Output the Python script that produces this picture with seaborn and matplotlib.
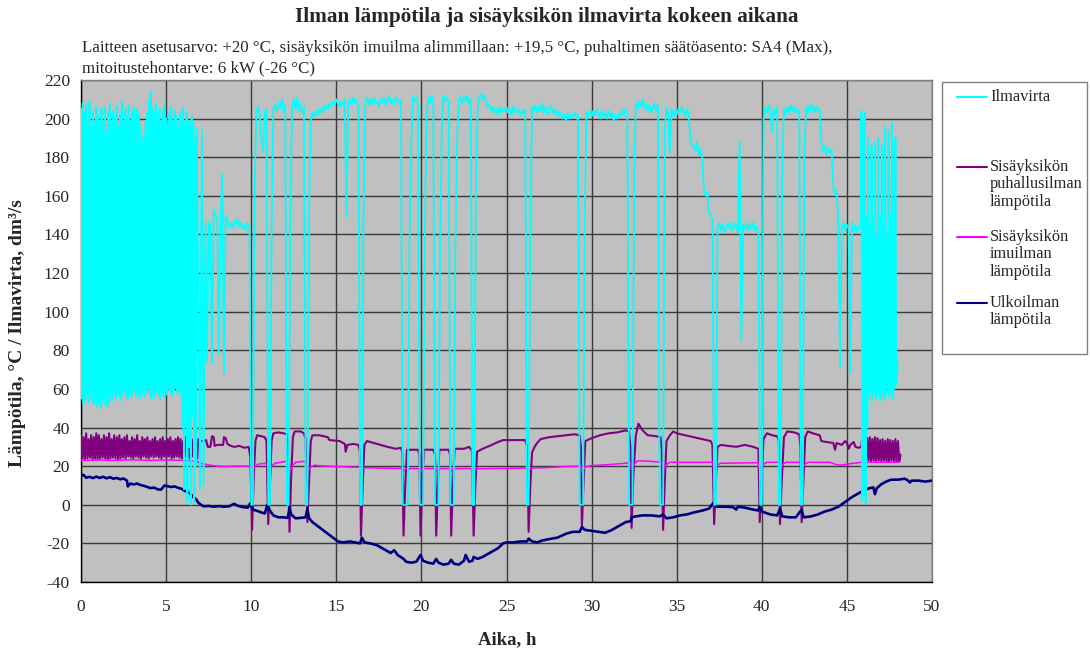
import numpy as np
import pandas as pd
import matplotlib
matplotlib.use("Agg")
import matplotlib.pyplot as plt
import seaborn as sns
from matplotlib.patches import Rectangle
from matplotlib.lines import Line2D
from matplotlib.ticker import MultipleLocator

# ---------------- data ----------------
# Ilmavirta (airflow), dense compressor cycling 0..6.8 h, sampled every 0.05 h (peak, trough alternating)
cyan_peaks = [205,208,203,207,200,209,196,204,198,206,
              201,195,205,199,206,193,203,208,197,204,
              200,206,196,202,209,198,205,201,207,199,
              204,206,200,205,202,196,190,192,198,203,
              210,214,206,203,208,201,205,199,204,207,
              200,196,203,206,199,204,201,195,203,200,
              206,198,203,199,196,201,198,190,195]
cyan_troughs = [55,52,54,57,53,56,54,52,55,51,
                53,50,54,52,55,51,53,56,54,57,
                55,58,56,54,57,59,56,55,58,56,
                57,59,56,58,55,57,59,56,58,60,
                57,55,58,56,59,57,55,58,56,59,
                57,60,58,56,59,61,58,60,57,40,
                8,55,2,30,0,45,1,20]
# Ilmavirta 7.0 .. 45.8 h, every 0.1 h (one row per hour)
cyan_hourly = [
    [8, 194, 10, 146, 74, 147, 144, 73, 153, 150],          # 7
    [148, 78, 146, 171, 68, 150, 147, 144, 146, 143],       # 8
    [147, 145, 148, 144, 146, 143, 145, 142, 146, 144],     # 9
    [0, 0, 160, 204, 206, 202, 188, 183, 203, 205],         # 10
    [0, 0, 145, 205, 207, 204, 208, 205, 210, 204],         # 11
    [207, 0, 0, 150, 206, 210, 205, 211, 204, 208],         # 12
    [203, 206, 0, 0, 150, 200, 203, 201, 204, 202],         # 13
    [205, 203, 206, 204, 207, 205, 208, 206, 209, 207],     # 14
    [210, 208, 206, 209, 207, 210, 149, 208, 210, 207],     # 15
    [211, 208, 210, 207, 0, 0, 150, 208, 211, 207],         # 16
    [210, 207, 211, 208, 209, 206, 210, 208, 211, 207],     # 17
    [209, 212, 208, 210, 207, 211, 209, 208, 210, 0],       # 18
    [0, 0, 0, 135, 185, 212, 209, 211, 208, 0],             # 19
    [0, 0, 138, 200, 211, 208, 212, 209, 0, 0],             # 20
    [0, 135, 195, 212, 209, 211, 208, 0, 0, 0],             # 21
    [135, 190, 210, 212, 208, 211, 209, 212, 208, 210],     # 22
    [0, 0, 163, 205, 211, 213, 210, 212, 208, 206],         # 23
    [207, 204, 206, 203, 205, 202, 206, 203, 205, 204],     # 24
    [206, 203, 205, 202, 206, 204, 203, 205, 202, 204],     # 25
    [203, 205, 0, 0, 140, 206, 204, 207, 203, 206],         # 26
    [204, 208, 203, 206, 202, 205, 207, 203, 205, 202],     # 27
    [204, 201, 203, 200, 202, 199, 203, 200, 202, 201],     # 28
    [203, 200, 202, 0, 0, 0, 150, 203, 201, 204],           # 29
    [201, 204, 202, 205, 203, 200, 204, 201, 203, 200],     # 30
    [204, 201, 203, 199, 202, 200, 203, 201, 204, 202],     # 31
    [205, 203, 0, 0, 0, 170, 208, 205, 209, 206],           # 32
    [210, 205, 208, 204, 207, 203, 206, 208, 204, 207],     # 33
    [0, 0, 0, 195, 206, 203, 182, 205, 201, 204],           # 34
    [202, 205, 203, 206, 204, 201, 205, 203, 190, 186],     # 35
    [186, 183, 188, 181, 184, 180, 163, 160, 162, 151],     # 36
    [150, 148, 0, 0, 144, 146, 142, 145, 141, 144],         # 37
    [146, 143, 145, 142, 146, 144, 141, 188, 85, 145],      # 38
    [143, 146, 142, 145, 143, 146, 142, 144, 141, 0],       # 39
    [0, 200, 206, 203, 207, 204, 193, 205, 202, 206],       # 40
    [0, 0, 170, 205, 202, 206, 203, 207, 204, 206],         # 41
    [203, 205, 204, 0, 0, 180, 206, 203, 207, 204],         # 42
    [207, 203, 206, 204, 205, 188, 183, 186, 181, 185],     # 43
    [182, 184, 165, 161, 163, 146, 71, 143, 146, 142],      # 44
    [145, 143, 68, 146, 142, 145, 141, 144, 143],           # 45
]
# Ilmavirta 45.85 .. 48.0 h, every 0.05 h
cyan_end = [204, 2, 200, 5, 203, 1, 150, 40, 190, 55, 145, 58, 186, 54, 150, 57,
            188, 55, 140, 59, 190, 56, 150, 54, 186, 58, 145, 55, 196, 57, 140, 60,
            194, 56, 150, 58, 198, 55, 140, 60, 190, 62, 75, 70]

# Sisäyksikön puhallusilman lämpötila, cycling 0..6.9 h every 0.075 h
purple_peaks = [36, 35, 37, 34, 36, 35, 37, 36, 34, 36,
                35, 37, 34, 36, 35, 36, 34, 35, 36, 33,
                35, 34, 36, 33, 35, 34, 35, 33, 34, 35,
                33, 34, 35, 33, 34, 35, 33, 34, 35, 34,
                33, 35, 34, 33, 34, 35, 34]
purple_troughs = [24, 23.5, 24, 24.5, 23.5, 24, 23.5, 24, 24.5, 24,
                  23.5, 24, 24.5, 24, 23.5, 24, 24.5, 24, 25, 24.5,
                  24, 25, 24.5, 24, 25, 24.5, 24, 25, 24.5, 25,
                  24.5, 24, 25, 24.5, 25, 24, 24.5, 25, 24.5, 24,
                  25, 24.5, 24, 25, 24.5, 24]
purple_points = [
    (6.95,34),(7.0,33),(7.2,33),(7.35,33.5),(7.45,30),(7.6,30),(7.7,35.5),(7.8,35),(7.85,30.5),
    (8.0,31),(8.2,31),(8.35,31),(8.4,35),(8.5,34.5),(8.6,31.5),(8.8,30.5),(9.0,30),(9.3,30.5),
    (9.6,29.5),(9.85,30),(9.95,25),(10.05,-13),(10.15,15),(10.25,33),(10.35,36),(10.6,35.5),
    (10.8,35),(10.9,33),(11.0,-10),(11.1,10),(11.2,33),(11.3,37),(11.6,37.5),(11.9,37),
    (12.1,36.5),(12.17,30),(12.25,-14),(12.35,15),(12.45,35),(12.55,38),(12.9,38),(13.1,37),
    (13.2,34),(13.3,-9),(13.4,12),(13.5,33),(13.6,36),(14.0,36),(14.5,35),(14.6,33.5),
    (15.2,33),(15.5,31.5),(15.55,27.5),(15.65,31),(16.0,31.5),(16.3,31),(16.38,28),(16.45,-16),
    (16.55,10),(16.65,31),(16.8,33),(17.2,32),(17.6,31),(18.0,30),(18.5,29),(18.8,29.5),
    (18.88,27),(18.95,-16),(19.05,10),(19.15,28.5),(19.8,28.5),(19.88,26),(19.95,-16),
    (20.05,10),(20.15,28.5),(20.7,28.5),(20.8,26),(20.87,-16),(20.97,10),(21.05,28.5),
    (21.6,28.5),(21.68,26),(21.75,-16),(21.85,10),(21.95,29),(22.5,29),(22.8,30),(22.97,28),
    (23.07,-16),(23.17,10),(23.27,27.5),(23.6,29),(24.0,30.5),(24.5,32.5),(24.8,33.5),
    (25.5,33.5),(26.1,33.5),(26.22,30),(26.3,-14),(26.4,10),(26.5,27),(26.65,30),(26.8,32),
    (27.0,34),(27.5,35),(28.0,35.5),(28.5,36),(29.0,36.5),(29.3,36),(29.37,30),(29.43,-11),
    (29.53,12),(29.63,33),(30.0,34.5),(30.5,36),(31.0,37),(31.5,37.5),(32.0,38.5),(32.2,38),
    (32.28,30),(32.35,-12),(32.45,15),(32.6,36),(32.75,42),(33.0,38.5),(33.3,36),(33.8,35.5),
    (34.05,35),(34.12,28),(34.2,-13),(34.3,12),(34.4,33),(34.6,36),(34.8,38),(35.0,37),
    (35.5,36),(36.0,35),(36.5,34),(37.0,33),(37.1,31),(37.2,-10),(37.3,12),(37.4,30),
    (37.6,31),(38.0,30.5),(38.5,30),(39.0,31),(39.5,30),(39.8,29),(39.88,-9),(39.98,12),
    (40.1,34),(40.3,37),(40.6,36),(40.9,35.5),(41.0,33),(41.07,-10),(41.17,12),(41.3,35),
    (41.5,38),(41.9,37.5),(42.2,36.5),(42.27,30),(42.34,-9),(42.44,12),(42.55,35),(42.7,38),
    (43.0,37),(43.4,36),(43.5,33),(43.8,32.5),(44.2,32),(44.3,28.5),(44.4,32),(44.7,31),
    (44.9,33),(45.0,32),(45.1,29),(45.2,31),(45.4,32.5),(45.5,30),(45.7,29.5),(45.85,30)]
# puhallusilma cycling again 45.9 .. 48.15 h every 0.075 h
purple_end = [35, 24, 35.5, 23, 34.5, 23, 35, 22.5, 34, 23, 35, 22.5, 34.5, 23, 33.5,
              22.5, 34, 23, 33, 22.5, 34, 22.5, 33.5, 23, 33, 22.5, 34, 22.5, 33, 22.5, 26]

# Sisäyksikön imuilman lämpötila
magenta_points = [
    (0,23),(1,23.2),(2,23),(3,23.3),(4,23),(5,23.2),(6,23),(6.8,22.5),(7.0,21.5),(7.3,21),
    (7.6,20.5),(8.0,20),(8.5,19.8),(9.0,20),(9.5,20),(9.92,20),(10.05,17.5),(10.2,19.5),
    (10.4,21),(10.85,21.5),(10.95,20),(11.03,17.5),(11.2,20),(11.4,21.5),(12.05,22.5),
    (12.17,21),(12.28,17.5),(12.45,20.5),(12.6,22),(13.15,22.5),(13.25,20),(13.33,17.5),
    (13.5,19.5),(13.7,20.5),(14.0,20.2),(15.0,19.8),(16.0,19.5),(16.35,19.4),(16.45,17.5),
    (16.6,19.2),(17.5,19),(18.87,18.8),(18.95,17.2),(19.08,18.7),(19.87,18.7),(19.95,17.2),
    (20.08,18.7),(20.8,18.7),(20.87,17.2),(21.0,18.7),(21.68,18.7),(21.75,17.2),(21.88,18.7),
    (23.0,18.7),(23.07,17.2),(23.22,18.6),(24.5,18.8),(26.22,19),(26.3,17.5),(26.45,19),
    (27.5,19.3),(28.5,19.8),(29.35,20),(29.43,17),(29.6,19.5),(30.0,20.3),(31.0,20.8),
    (32.0,21.5),(32.27,22),(32.35,18.5),(32.5,21),(32.7,22.8),(33.5,22.5),(34.12,22),
    (34.2,17.5),(34.35,20.5),(34.6,22),(37.12,22),(37.2,17.8),(37.35,20.5),(37.6,21.5),
    (39.8,21.8),(39.88,18),(40.03,20.5),(40.3,22),(41.0,22),(41.07,18),(41.2,20.5),(41.4,22),
    (42.27,22),(42.34,18),(42.48,20.5),(42.7,22),(44.0,22),(44.3,21),(44.6,20.5),(45.0,21),
    (45.4,21.5),(45.9,22),(48.1,22)]

# Ulkoilman lämpötila
navy_points = [
    (0.0,15),(0.15,15.5),(0.3,14),(0.5,14.5),(0.7,13.8),(0.9,14.6),(1.1,13.9),(1.3,14.5),
    (1.5,13.7),(1.7,14.3),(1.9,13.5),(2.1,13.9),(2.3,13.2),(2.5,13.6),(2.7,12.5),(2.75,9.5),
    (2.9,11),(3.1,10.5),(3.3,11),(3.5,10.2),(3.7,9.8),(3.9,9.2),(4.1,8.6),(4.3,8.9),(4.5,8),
    (4.7,7.8),(4.9,10),(5.1,9.6),(5.3,9.2),(5.5,9.5),(5.7,8.8),(5.9,8.3),(6.1,7.2),(6.3,6.5),
    (6.5,5),(6.6,4),(6.75,3),(6.9,1),(7.05,0),(7.2,-0.8),(7.5,-0.6),(7.8,-1),(8.1,-0.7),
    (8.4,-1),(8.7,-0.8),(9.0,0.5),(9.2,-0.5),(9.5,-1.2),(9.8,-1.5),(9.95,0.8),(10.1,-2.5),
    (10.3,-3),(10.6,-4),(10.8,-4.5),(10.95,0),(11.1,-3),(11.3,-5.5),(11.6,-6.5),(11.9,-6.5),
    (12.15,-6.8),(12.25,-1.5),(12.35,-5),(12.6,-7),(12.9,-6.8),(13.2,-6.5),(13.3,-2),
    (13.4,-7),(13.6,-9),(13.9,-11),(14.2,-13),(14.5,-15),(14.8,-17),(15.1,-19),(15.4,-19.5),
    (15.8,-19),(16.1,-19.5),(16.4,-20),(16.5,-17),(16.65,-19.5),(17.0,-20),(17.4,-21),
    (17.8,-23),(18.2,-25),(18.4,-23.5),(18.6,-26),(18.95,-28),(19.1,-29.5),(19.4,-30),
    (19.7,-29.5),(19.95,-26),(20.1,-29),(20.4,-30),(20.7,-30.5),(20.87,-28),(21.0,-30),
    (21.3,-31),(21.6,-30.5),(21.75,-28.5),(21.9,-30.5),(22.2,-31),(22.5,-29),(22.6,-26),
    (22.8,-29.5),(23.0,-29),(23.07,-27),(23.3,-28),(23.6,-27),(23.9,-25.5),(24.2,-24),
    (24.5,-22.5),(24.8,-20),(25.0,-19.5),(25.4,-19.5),(25.8,-19),(26.2,-19),(26.3,-17.5),
    (26.5,-19),(26.8,-19.5),(27.1,-18.5),(27.5,-17.8),(28.0,-17),(28.5,-15),(28.9,-14),
    (29.3,-14),(29.43,-11.5),(29.6,-13),(30.0,-13.5),(30.4,-14),(30.8,-14.5),(31.2,-13),
    (31.6,-11),(32.0,-9),(32.3,-8.5),(32.35,-6.5),(32.6,-6),(33.0,-5.5),(33.5,-5.5),
    (34.0,-6),(34.2,-5),(34.4,-7),(34.8,-6.5),(35.2,-5.5),(35.6,-5),(36.0,-4),(36.5,-3),
    (36.9,-2),(37.2,1.5),(37.35,-1),(37.8,-1),(38.3,-1.2),(38.5,-2.5),(38.6,-1),(39.0,-1.5),
    (39.5,-2.5),(39.8,-3),(39.88,-0.5),(40.0,-3.5),(40.5,-5),(40.9,-5.5),(41.07,-2),
    (41.2,-6),(41.6,-6.5),(42.0,-6.5),(42.34,-2.5),(42.45,-6.5),(42.9,-6),(43.3,-5),
    (43.7,-3.5),(44.1,-2.5),(44.5,-1),(44.9,1.5),(45.3,4),(45.7,6),(46.0,7.5),(46.3,8.5),
    (46.55,9),(46.65,5.5),(46.75,8.5),(47.0,10.5),(47.3,12),(47.6,13),(48.0,13),(48.4,13.5),
    (48.6,12.5),(48.7,11.5),(48.8,12.5),(49.2,12.5),(49.6,12),(50.0,12.5)]

series_names = ["Ilmavirta",
                "Sisäyksikön\npuhallusilman\nlämpötila",
                "Sisäyksikön\nimuilman\nlämpötila",
                "Ulkoilman\nlämpötila"]
series_colors = ["#00FFFF", "#800080", "#FF00FF", "#000080"]
x_ticks = list(range(0, 51, 5))
y_ticks = list(range(-40, 221, 20))

# ---------------- assemble series ----------------
def alternate(peaks, troughs):
    v = np.empty(len(peaks) + len(troughs))
    v[0::2] = peaks
    v[1::2] = troughs
    return v

cyan_dense = alternate(cyan_peaks, cyan_troughs)
cyan_mid = np.array([v for row in cyan_hourly for v in row], dtype=float)
cyan_t = np.concatenate([0.05 * np.arange(len(cyan_dense)),
                         7.0 + 0.1 * np.arange(len(cyan_mid)),
                         45.85 + 0.05 * np.arange(len(cyan_end))])
cyan_v = np.concatenate([cyan_dense, cyan_mid, np.array(cyan_end, float)])

purple_dense = alternate(purple_peaks, purple_troughs)
pp = np.array(purple_points, float)
purple_t = np.concatenate([0.075 * np.arange(len(purple_dense)), pp[:, 0],
                           45.9 + 0.075 * np.arange(len(purple_end))])
purple_v = np.concatenate([purple_dense, pp[:, 1], np.array(purple_end, float)])

mp = np.array(magenta_points, float)
npnt = np.array(navy_points, float)

frames = [
    pd.DataFrame({"t": cyan_t, "v": cyan_v, "s": series_names[0]}),
    pd.DataFrame({"t": purple_t, "v": purple_v, "s": series_names[1]}),
    pd.DataFrame({"t": mp[:, 0], "v": mp[:, 1], "s": series_names[2]}),
    pd.DataFrame({"t": npnt[:, 0], "v": npnt[:, 1], "s": series_names[3]}),
]

# ---------------- plot ----------------
sns.set_theme(style="white")
plt.rcParams['font.family'] = ['Liberation Serif', 'DejaVu Serif']
plt.rcParams['axes.unicode_minus'] = False

W, H = 1090, 654
fig = plt.figure(figsize=(W / 100, H / 100), dpi=100)
ax = fig.add_axes([81 / W, 1 - 582 / H, (932 - 81) / W, (582 - 80) / H])
ax.set_facecolor('#C0C0C0')

widths = [1.3, 1.5, 1.1, 1.9]
zorders = [5, 3, 4, 4.5]
for df, c, lw, z in zip(frames, series_colors, widths, zorders):
    sns.lineplot(data=df, x="t", y="v", color=c, lw=lw, sort=False,
                 estimator=None, ax=ax, zorder=z, legend=False)

ax.set_xlim(0, 50)
ax.set_ylim(-40, 220)
ax.set_xticks(x_ticks)
ax.set_yticks(y_ticks)
ax.xaxis.set_minor_locator(MultipleLocator(1))
ax.yaxis.set_minor_locator(MultipleLocator(5))
ax.grid(True, which='major', color='#3a3a3a', lw=1.0, zorder=1)
ax.set_axisbelow(True)
ax.tick_params(which='major', direction='out', length=5, width=1, color='black',
               labelsize=12.5, pad=3)
ax.tick_params(which='minor', direction='in', length=4, width=0.8, color='black')
ax.tick_params(axis='x', which='major', pad=7)
for side in ['left', 'bottom']:
    ax.spines[side].set_color('black')
    ax.spines[side].set_linewidth(1.0)
for side in ['top', 'right']:
    ax.spines[side].set_color('#808080')
    ax.spines[side].set_linewidth(1.0)
ax.set_xlabel("")
ax.set_ylabel("")

fig.text(547 / W, 1 - 17 / H, "Ilman lämpötila ja sisäyksikön ilmavirta kokeen aikana",
         ha='center', va='center', fontsize=15.3, fontweight='bold')
fig.text(82 / W, 1 - 48 / H,
         "Laitteen asetusarvo: +20 °C, sisäyksikön imuilma alimmillaan: +19,5 °C, "
         "puhaltimen säätöasento: SA4 (Max),",
         ha='left', va='center', fontsize=12.2)
fig.text(82 / W, 1 - 68 / H, "mitoitustehontarve: 6 kW (-26 °C)",
         ha='left', va='center', fontsize=12.2)
fig.text(18 / W, 1 - 333 / H, "Lämpötila, °C / Ilmavirta, dm³/s", rotation=90,
         ha='center', va='center', fontsize=14, fontweight='bold')
fig.text(507 / W, 1 - 640 / H, "Aika, h", ha='center', va='center',
         fontsize=13.5, fontweight='bold')

# legend box
fig.patches.append(Rectangle((942 / W, 1 - 354 / H), (1087 - 942) / W, (354 - 82) / H,
                             transform=fig.transFigure, facecolor='white',
                             edgecolor='#808080', lw=1.0, zorder=1))
leg_y = [97, 167, 237, 303]
for name, c, y in zip(series_names, series_colors, leg_y):
    fig.lines.append(Line2D([957 / W, 987 / W], [1 - y / H, 1 - y / H],
                            transform=fig.transFigure, color=c, lw=1.5, zorder=2))
    fig.text(990 / W, 1 - (y - 8) / H, name, ha='left', va='top', fontsize=11.8,
             linespacing=1.12, zorder=3)

fig.savefig("out.png", dpi=100)
